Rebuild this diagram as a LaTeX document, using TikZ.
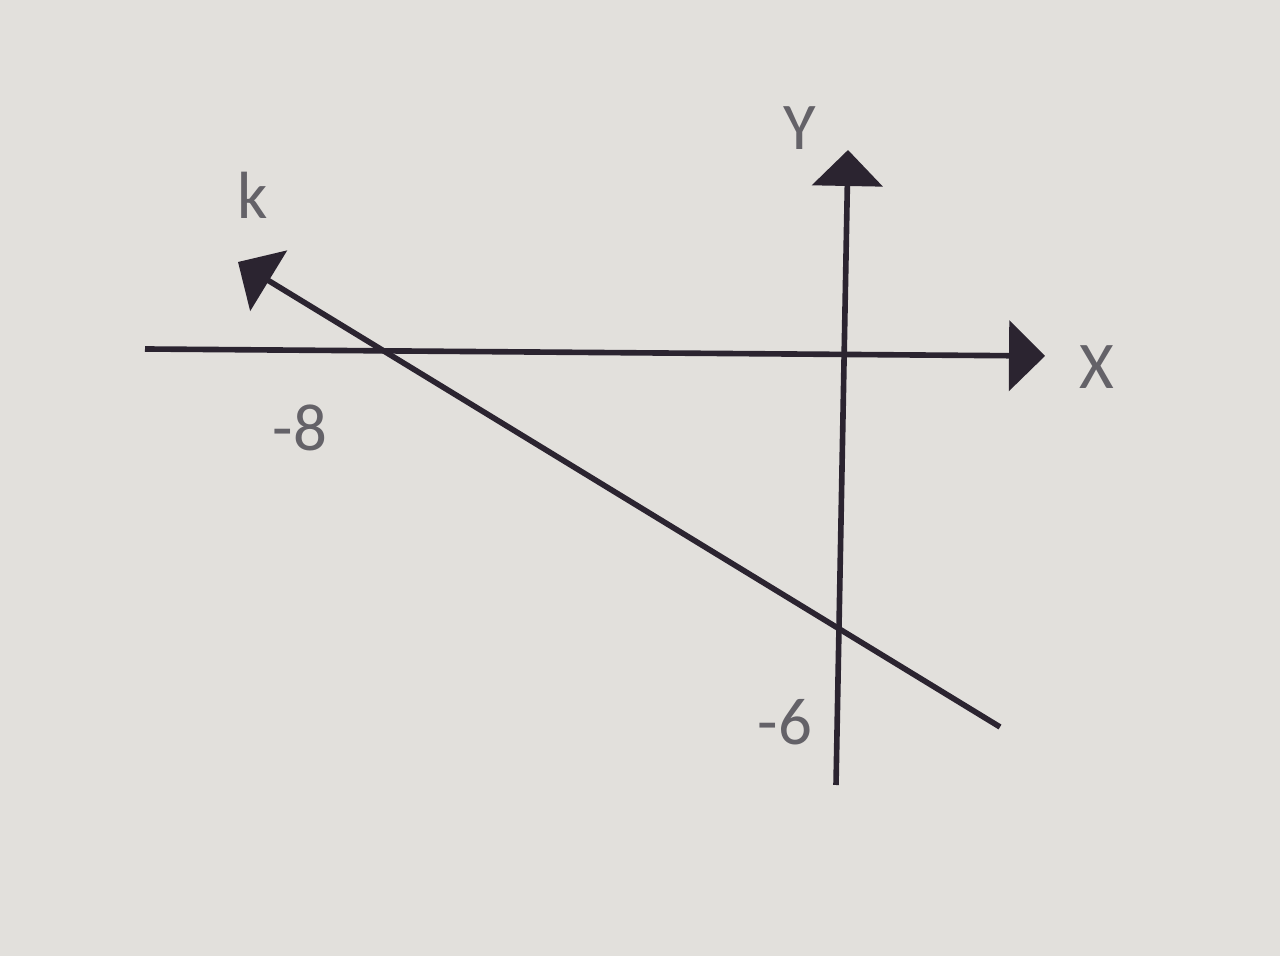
\documentclass[tikz,border=0pt]{standalone}
\usepackage{xcolor}
\usepackage{fontspec}
\setmainfont{Carlito}
\usepackage{tikz}
\usetikzlibrary{arrows.meta, positioning, calc}
\definecolor{paper}{RGB}{226,224,220}
\definecolor{ink}{RGB}{43,36,48}
\definecolor{labelgray}{RGB}{100,98,104}
\tikzset{
    axis/.style={draw=ink, line width=1.6pt, -{Triangle[length=3.6mm, width=7mm]}},
    kline/.style={draw=ink, line width=1.6pt, {Triangle[length=3.6mm, width=7mm]}-},
    lbl/.style={text=labelgray, font=\fontsize{19}{22}\selectfont, inner sep=0pt}
}
\begin{document}
\begin{tikzpicture}
        \fill[paper] (0,0) rectangle (12.8,9.56);
        \useasboundingbox (0,0) rectangle (12.8,9.56);
        % axes
        \coordinate (xl) at (1.45,6.07);
        \coordinate (xr) at (10.45,6.00);
        \coordinate (yb) at (8.36,1.71);
        \coordinate (yt) at (8.48,8.06);
        % line k
        \coordinate (kt) at (2.38,6.94);
        \coordinate (ke) at (10.00,2.29);

        \node (xlab) [lbl] at (10.97,5.89) {X};
        \node (ylab) [lbl] at (8.00,8.28) {Y};
        \node (klab) [lbl] at (2.53,7.61) {k};
        \node (m8) [lbl] at (3.00,5.28) {-8};
        \node (m6) [lbl] at (7.85,2.34) {-6};

        \draw [axis] (xl) -- (xr);
        \draw [axis] (yb) -- (yt);
        \draw [kline] (kt) -- (ke);
    \end{tikzpicture}
\end{document}
